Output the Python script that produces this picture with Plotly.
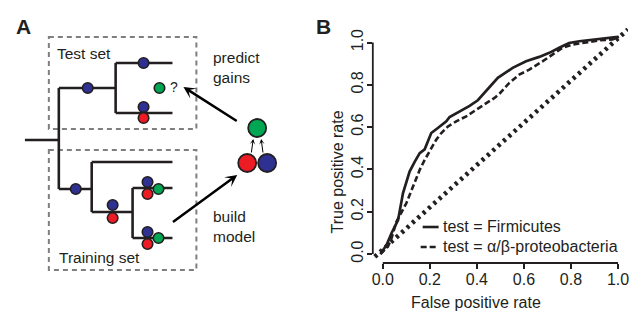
import plotly.graph_objects as go

W, H = 629, 312
INK = "#231f20"
GRAY = "#7f7f7f"
BLUE = "#2e3192"
RED = "#ed1c24"
GREEN = "#00a651"
FONT = "Liberation Sans, Arial, Helvetica, sans-serif"

# ---------------- Panel B data (ROC curves) ----------------
series_names = ["test = Firmicutes", "test = \u03b1/\u03b2-proteobacteria"]
fpr_firmicutes = [-0.01, 0.016, 0.037, 0.051, 0.065, 0.086, 0.10, 0.114, 0.136, 0.157, 0.178,
                  0.206, 0.234, 0.27, 0.284, 0.326, 0.369, 0.404, 0.432, 0.453, 0.489,
                  0.552, 0.609, 0.665, 0.708, 0.75, 0.792, 0.835, 0.891, 0.962, 1.0]
tpr_firmicutes = [0.0, 0.043, 0.098, 0.133, 0.161, 0.288, 0.343, 0.39, 0.437, 0.477, 0.495,
                  0.572, 0.596, 0.627, 0.648, 0.674, 0.70, 0.727, 0.762, 0.793, 0.833,
                  0.88, 0.911, 0.932, 0.951, 0.975, 0.998, 1.006, 1.014, 1.022, 1.027]
fpr_proteo = [-0.01, 0.022, 0.037, 0.058, 0.10, 0.128, 0.157, 0.178, 0.199, 0.227, 0.249,
              0.277, 0.312, 0.355, 0.397, 0.432, 0.475, 0.496, 0.538, 0.58, 0.623, 0.679,
              0.722, 0.764, 0.806, 0.863, 0.919, 0.976, 1.004]
tpr_proteo = [0.0, 0.035, 0.074, 0.153, 0.24, 0.319, 0.398, 0.445, 0.485, 0.54, 0.572,
              0.603, 0.627, 0.651, 0.682, 0.706, 0.738, 0.758, 0.809, 0.848, 0.872, 0.911,
              0.943, 0.975, 0.99, 1.0, 1.01, 1.014, 1.027]
chance_x = [-0.034, 1.042]
chance_y = [-0.013, 1.062]
tick_vals = [0.0, 0.2, 0.4, 0.6, 0.8, 1.0]
tick_text = ["0.0", "0.2", "0.4", "0.6", "0.8", "1.0"]

# ---------------- Panel A schematic (diagram units = pixels) ----------------
tree_segments = [
    ((24, 140), (58, 140)), ((58, 88), (58, 189)),
    ((58, 88), (115, 88)), ((115, 63), (115, 113)),
    ((115, 63), (172, 63)), ((115, 113), (172, 113)),
    ((58, 189), (91, 189)), ((91, 162), (91, 212)),
    ((91, 162), (172, 162)), ((91, 212), (132, 212)),
    ((132, 188), (132, 238)), ((132, 188), (172, 188)), ((132, 238), (172, 238)),
]
node_x = [87, 143, 143, 143, 159, 75, 112, 112, 147, 147, 158, 147, 147, 158]
node_y = [88, 63, 107, 118, 88, 189, 205, 218, 182, 194, 189, 232, 244, 238]
node_c = [BLUE, BLUE, BLUE, RED, GREEN, BLUE, BLUE, RED, BLUE, RED, GREEN, BLUE, RED, GREEN]
model_x = [257, 247, 267]
model_y = [128, 163, 163]
model_c = [GREEN, RED, BLUE]
boxes = [(48, 37, 196, 129), (48, 150, 196, 270)]

fig = go.Figure()

# tree lines
tx, ty = [], []
for (a, b) in tree_segments:
    tx += [a[0], b[0], None]
    ty += [a[1], b[1], None]
fig.add_trace(go.Scatter(x=tx, y=ty, mode="lines", line=dict(color=INK, width=2.6),
                         xaxis="x", yaxis="y", showlegend=False, hoverinfo="skip"))
fig.add_trace(go.Scatter(x=node_x, y=node_y, mode="markers",
                         marker=dict(size=10.5, color=node_c, line=dict(color=INK, width=1.6)),
                         xaxis="x", yaxis="y", showlegend=False, hoverinfo="skip"))
fig.add_trace(go.Scatter(x=model_x, y=model_y, mode="markers",
                         marker=dict(size=18, color=model_c, line=dict(color=INK, width=1.8)),
                         xaxis="x", yaxis="y", showlegend=False, hoverinfo="skip"))

# ROC curves
fig.add_trace(go.Scatter(x=chance_x, y=chance_y, mode="lines",
                         line=dict(color=INK, width=4.6, dash="3px,4.2px"),
                         xaxis="x2", yaxis="y2", showlegend=False, name="chance"))
fig.add_trace(go.Scatter(x=fpr_proteo, y=tpr_proteo, mode="lines",
                         line=dict(color=INK, width=2.6, dash="6px,3px"),
                         xaxis="x2", yaxis="y2", showlegend=False, name=series_names[1]))
fig.add_trace(go.Scatter(x=fpr_firmicutes, y=tpr_firmicutes, mode="lines",
                         line=dict(color=INK, width=2.7),
                         xaxis="x2", yaxis="y2", showlegend=False, name=series_names[0]))

shapes = []
for (x0, y0, x1, y1) in boxes:
    shapes.append(dict(type="rect", xref="x", yref="y", x0=x0, y0=y0, x1=x1, y1=y1,
                       line=dict(color=GRAY, width=2, dash="5px,4px"), layer="below"))
# R-style axis lines spanning 0..1
shapes.append(dict(type="line", xref="x2 domain", yref="y2", x0=0, x1=0, y0=0, y1=1,
                   line=dict(color=INK, width=1.8)))
shapes.append(dict(type="line", xref="x2", yref="y2 domain", x0=0, x1=1, y0=0, y1=0,
                   line=dict(color=INK, width=1.8)))
# legend samples
shapes.append(dict(type="line", xref="paper", yref="paper", x0=423 / W, x1=439 / W,
                   y0=1 - 227 / H, y1=1 - 227 / H, line=dict(color=INK, width=2.6)))
shapes.append(dict(type="line", xref="paper", yref="paper", x0=421 / W, x1=439 / W,
                   y0=1 - 247 / H, y1=1 - 247 / H, line=dict(color=INK, width=2.6, dash="6px,3px")))

ann = []
def txt(x, y, s, size=15.5, xanchor="left", ref="x", **kw):
    d = dict(x=x, y=y, text=s, showarrow=False, xanchor=xanchor, yanchor="middle",
             font=dict(family=FONT, size=size, color=INK))
    if ref == "x":
        d.update(xref="x", yref="y")
    else:
        d.update(xref="paper", yref="paper")
    d.update(kw)
    ann.append(d)

txt(22.5, 26, "<b>A</b>", size=21, xanchor="center")
txt(54, 53, "Test set")
txt(56, 257, "Training set")
txt(211, 67, "predict<br>gains", align="left")
txt(211, 226, "build<br>model", align="left")
txt(174, 87, "?", size=14, xanchor="center")
txt(323.5 / W, 1 - 26 / H, "<b>B</b>", size=21, xanchor="center", ref="paper")
txt(441 / W, 1 - 226.5 / H, series_names[0], size=16, ref="paper")
txt(441 / W, 1 - 246.5 / H, series_names[1], size=16, ref="paper")
txt(477 / W, 1 - 302 / H, "False positive rate", size=16, xanchor="center", ref="paper")
txt(338 / W, 1 - 171.5 / H, "True positive rate", size=16, xanchor="center", ref="paper",
    textangle=-90)

def arrow(x0, y0, x1, y1, width, size):
    ann.append(dict(x=x1, y=y1, ax=x0, ay=y0, xref="x", yref="y", axref="x", ayref="y",
                    showarrow=True, arrowhead=3, arrowsize=size, arrowwidth=width,
                    arrowcolor="#000000", text=""))

arrow(238, 122, 183, 87, 2.5, 0.8)
arrow(171, 223, 237, 175, 2.5, 0.8)
arrow(251, 154, 253, 139, 1.0, 0.9)
arrow(263, 154, 261, 139, 1.0, 0.9)

axis_font = dict(family=FONT, size=16, color=INK)
fig.update_layout(
    width=W, height=H, margin=dict(l=0, r=0, t=0, b=0),
    paper_bgcolor="white", plot_bgcolor="white", showlegend=False,
    xaxis=dict(domain=[0, 320 / W], range=[0, 320], visible=False, fixedrange=True),
    yaxis=dict(domain=[0, 1], range=[312, 0], visible=False, fixedrange=True),
    xaxis2=dict(domain=[373 / W, 1], range=[-0.0424, 1.0424], anchor="y2",
                tickvals=tick_vals, ticktext=tick_text, ticks="outside", ticklen=5,
                tickwidth=1.8, tickcolor=INK, tickfont=axis_font, showgrid=False,
                zeroline=False, showline=False, ticklabeloverflow="allow",
                ticklabelstandoff=-3),
    yaxis2=dict(domain=[1 - 263 / H, 1 - 28 / H], range=[-0.04255, 1.0686], anchor="x2",
                tickvals=tick_vals, ticktext=tick_text, ticks="outside", ticklen=5,
                tickwidth=1.8, tickcolor=INK, tickfont=axis_font, tickangle=-90,
                showgrid=False, zeroline=False, showline=False, ticklabeloverflow="allow",
                ticklabelstandoff=-3),
    shapes=shapes, annotations=ann,
)

fig.write_html("out.html", config={"displayModeBar": False},
               post_script="document.body.style.margin='0px';document.body.style.overflow='hidden';")
